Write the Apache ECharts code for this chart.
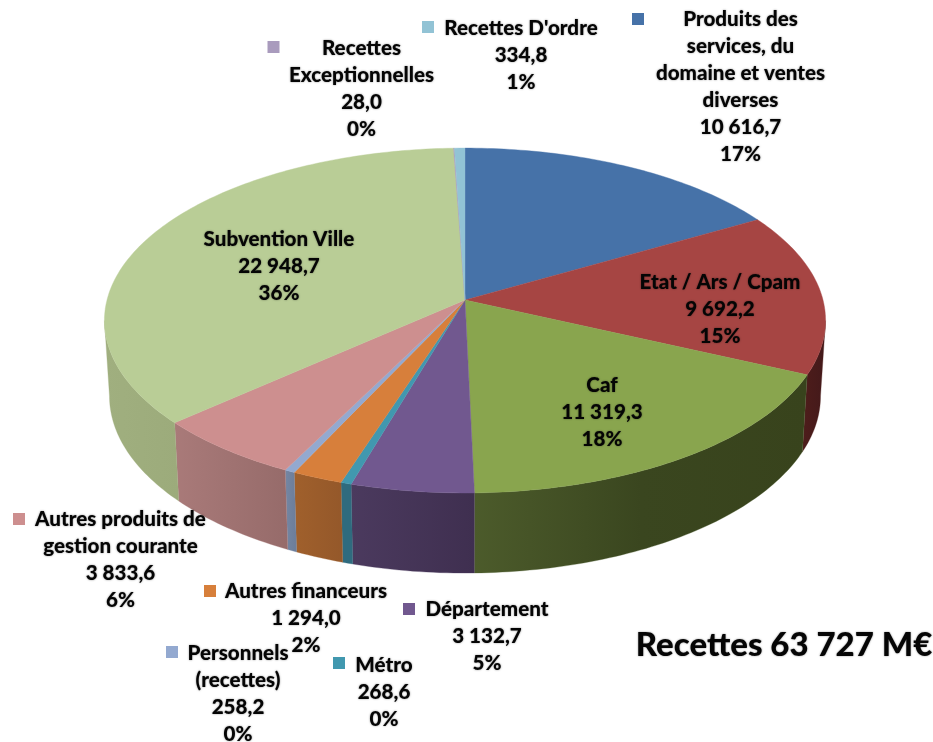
<!DOCTYPE html>
<html>
<head>
<meta charset="utf-8">
<style>html,body{margin:0;padding:0;background:#fff}#c{width:933px;height:742px}</style>
<script src="https://cdn.jsdelivr.net/npm/echarts@6/dist/echarts.min.js"></script>
</head>
<body>
<div id="c"></div>
<script>
// ---- data (clockwise from 12 o'clock) ----
const names = [
  "Produits des\nservices, du\ndomaine et ventes\ndiverses",
  "Etat / Ars / Cpam",
  "Caf",
  "Département",
  "Métro",
  "Autres financeurs",
  "Personnels\n(recettes)",
  "Autres produits de\ngestion courante",
  "Subvention Ville",
  "Recettes\nExceptionnelles",
  "Recettes D'ordre"
];
const values = [10616.7, 9692.2, 11319.3, 3132.7, 268.6, 1294.0, 258.2, 3833.6, 22948.7, 28.0, 334.8];
const titleText = "Recettes 63 727 M€";

// ---- styles ----
const topColors = ["#4672a8","#a64543","#89a54e","#71588f","#4198af","#d77f3b","#93a9d0","#cd8f8f","#b9cd96","#a99bbd","#92c3d5"];
const sideStops = [
  ["#2a4465","#2a4465"],["#4e1d1b","#43191a"],["#4c5b2b","#3a461f","#38431c"],["#4b3a5e","#3f2f50"],
  ["#2f6b7e","#2f6b7e"],["#a0602c","#94582a"],["#7486a3","#6c7d99"],["#a97a79","#966b6a"],
  ["#a0af7f","#9cab7b"],["#7b7189","#7b7189"],["#6a8d9a","#6a8d9a"]
];

// ---- label layout: [centre x, first line centre y] ----
const labelPos = [[740.5,19.5],[720,282.5],[602,385.5],[487,609.5],[384,665.5],[306,591.5],[238,653.5],[120.5,519.5],[279,239.5],[361.5,48.5],[521,28.5]];
// legend keys: [x, y] (null = none drawn)
const keyPos = [[632,13],null,null,[403,603],[333,657],[204,585],[166,646],[13,513],null,[267.5,41],[422,21]];

// ---- perspective projection of the pie disc ----
const total = values.reduce((a,b)=>a+b,0);
const K = 0.119;
const topRing  = {cx:465, cy:300, A:358, B:170};
const baseRing = {cx:465, cy:375, A:353, B:174.5};
const VIS_A = Math.acos(-K), VIS_B = 2*Math.PI - VIS_A;
function proj(r, t){
  const X = Math.sin(t), Y = Math.cos(t), w = 1 + K*Y;
  return [r.cx + r.A*X/w, r.cy - r.B*Y/w];
}
function angles(i){
  let s = 0; for (let j=0;j<i;j++) s += values[j];
  return [s/total*2*Math.PI, (s+values[i])/total*2*Math.PI];
}
function arc(r, a, b){
  const n = Math.max(2, Math.ceil((b-a)/(Math.PI/180))), pts=[];
  for (let i=0;i<=n;i++) pts.push(proj(r, a+(b-a)*i/n));
  return pts;
}
function fmt(v){
  const p = v.toFixed(1).split(".");
  return p[0].replace(/\B(?=(\d{3})+$)/g," ") + "," + p[1];
}
const FONT = 'Lato, "Open Sans", sans-serif';
const textStyle = (text,x,y,size,lh)=>({
  text, x, y, align:'center', verticalAlign:'top',
  fontFamily:FONT, fontWeight:900, fontSize:size, lineHeight:lh, fill:'#050505',
  textShadowColor:'rgba(0,0,0,0.45)', textShadowBlur:2
});

const rows = values.map(v=>[v]);
const option = {
  animation:false,
  backgroundColor:'#fff',
  series:[
    { type:'custom', name:'side', coordinateSystem:'none', data:rows, silent:true,
      renderItem(params){
        const i = params.dataIndex, [a0,b0] = angles(i);
        const a = Math.max(a0,VIS_A), b = Math.min(b0,VIS_B);
        if (b <= a) return {type:'group',children:[]};
        const pts = arc(topRing,a,b).concat(arc(baseRing,a,b).reverse());
        const st = sideStops[i];
        const fill = {type:'linear',x:0,y:0,x2:1,y2:0,
          colorStops:st.map((c,j)=>({offset:j/(st.length-1),color:c}))};
        return {type:'polygon',shape:{points:pts},style:{fill,stroke:st[0],lineWidth:0.3}};
      }
    },
    { type:'custom', name:'top', coordinateSystem:'none', data:rows, silent:true,
      renderItem(params){
        const i = params.dataIndex, [a,b] = angles(i);
        const pts = [[topRing.cx,topRing.cy]].concat(arc(topRing,a,b));
        return {type:'polygon',shape:{points:pts},
          style:{fill:topColors[i],stroke:topColors[i],lineWidth:0.4}};
      }
    },
    { type:'custom', name:'labels', coordinateSystem:'none', data:rows, silent:true,
      renderItem(params){
        const i = params.dataIndex, v = values[i];
        const txt = names[i]+"\n"+fmt(v)+"\n"+Math.round(v/total*100)+"%";
        const [x,y] = labelPos[i];
        const ch = [{type:'text',style:textStyle(txt,x,y-13.5,20.6,26.9)}];
        if (keyPos[i]) ch.push({type:'rect',shape:{x:keyPos[i][0],y:keyPos[i][1],width:12,height:12},
          style:{fill:topColors[i]}});
        return {type:'group',children:ch};
      }
    }
  ],
  graphic:[{type:'text',style:textStyle(titleText,784,626,33,38)}]
};
const chart = echarts.init(document.getElementById('c'));
chart.setOption(option);
</script>
</body>
</html>
